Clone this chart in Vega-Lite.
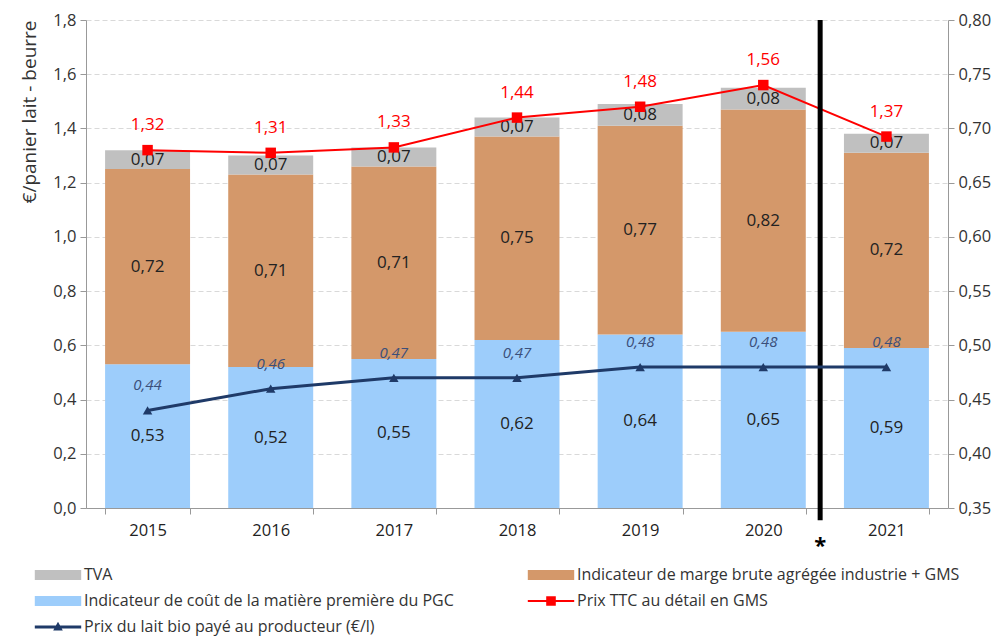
{
  "$schema": "https://vega.github.io/schema/vega-lite/v6.json",
  "width": 862,
  "height": 488,
  "autosize": {"type": "none"},
  "padding": {"left": 86, "top": 20, "right": 59, "bottom": 128},
  "config": {
    "locale": {"number": {"decimal": ",", "thousands": " ", "grouping": [3], "currency": ["", " €"]}},
    "view": {"stroke": null},
    "font": "Open Sans"
  },
  "datasets": {
    "bars": [
      {"year": "2015", "serie": "Indicateur de coût de la matière première du PGC", "value": 0.53},
      {"year": "2015", "serie": "Indicateur de marge brute agrégée industrie + GMS", "value": 0.72},
      {"year": "2015", "serie": "TVA", "value": 0.07},
      {"year": "2016", "serie": "Indicateur de coût de la matière première du PGC", "value": 0.52},
      {"year": "2016", "serie": "Indicateur de marge brute agrégée industrie + GMS", "value": 0.71},
      {"year": "2016", "serie": "TVA", "value": 0.07},
      {"year": "2017", "serie": "Indicateur de coût de la matière première du PGC", "value": 0.55},
      {"year": "2017", "serie": "Indicateur de marge brute agrégée industrie + GMS", "value": 0.71},
      {"year": "2017", "serie": "TVA", "value": 0.07},
      {"year": "2018", "serie": "Indicateur de coût de la matière première du PGC", "value": 0.62},
      {"year": "2018", "serie": "Indicateur de marge brute agrégée industrie + GMS", "value": 0.75},
      {"year": "2018", "serie": "TVA", "value": 0.07},
      {"year": "2019", "serie": "Indicateur de coût de la matière première du PGC", "value": 0.64},
      {"year": "2019", "serie": "Indicateur de marge brute agrégée industrie + GMS", "value": 0.77},
      {"year": "2019", "serie": "TVA", "value": 0.08},
      {"year": "2020", "serie": "Indicateur de coût de la matière première du PGC", "value": 0.65},
      {"year": "2020", "serie": "Indicateur de marge brute agrégée industrie + GMS", "value": 0.82},
      {"year": "2020", "serie": "TVA", "value": 0.08},
      {"year": "2021", "serie": "Indicateur de coût de la matière première du PGC", "value": 0.59},
      {"year": "2021", "serie": "Indicateur de marge brute agrégée industrie + GMS", "value": 0.72},
      {"year": "2021", "serie": "TVA", "value": 0.07}
    ],
    "lines": [
      {"year": "2015", "prix_ttc": 1.32, "lait": 0.44},
      {"year": "2016", "prix_ttc": 1.31, "lait": 0.46},
      {"year": "2017", "prix_ttc": 1.33, "lait": 0.47},
      {"year": "2018", "prix_ttc": 1.44, "lait": 0.47},
      {"year": "2019", "prix_ttc": 1.48, "lait": 0.48},
      {"year": "2020", "prix_ttc": 1.56, "lait": 0.48},
      {"year": "2021", "prix_ttc": 1.37, "lait": 0.48}
    ]
  },
  "layer": [
    {
      "layer": [
        {
          "data": {"name": "bars"},
          "transform": [
            {"stack": "value", "groupby": ["year"], "sort": [{"field": "serie", "order": "ascending"}], "as": ["v0", "v1"]}
          ],
          "mark": {"type": "bar"},
          "encoding": {
            "x": {
              "field": "year", "type": "ordinal", "title": null,
              "scale": {"paddingInner": 0.31, "paddingOuter": 0.155},
              "axis": {"title": null, "labelAngle": 0, "tickBand": "extent", "tickSize": 6, "labelPadding": 8, "labelColor": "#222222", "labelFont": "Open Sans", "labelFontSize": 16.5, "domainColor": "#999999", "tickColor": "#999999", "grid": false}
            },
            "y": {
              "field": "v0", "type": "quantitative", "title": "€/panier lait - beurre",
              "scale": {"domain": [0, 1.8], "nice": false, "zero": false},
              "axis": {
                "title": "€/panier lait - beurre", "titleAnchor": "end", "titlePadding": 13,
                "titleFont": "Open Sans", "titleFontSize": 19, "titleFontWeight": "normal", "titleColor": "#333333",
                "labelFont": "Open Sans", "labelFontSize": 16.5, "labelColor": "#333333",
                "values": [0, 0.2, 0.4, 0.6, 0.8, 1.0, 1.2, 1.4, 1.6, 1.8], "format": ".1f",
                "tickSize": 6, "labelPadding": 4, "domainColor": "#999999", "tickColor": "#999999",
                "grid": true, "gridColor": "#d9d9d9", "gridDash": [5, 3]
              }
            },
            "y2": {"field": "v1"},
            "color": {
              "field": "serie", "type": "nominal",
              "scale": {
                "domain": ["TVA", "Indicateur de coût de la matière première du PGC", "Prix du lait bio payé au producteur (€/l)", "Indicateur de marge brute agrégée industrie + GMS", "Prix TTC au détail en GMS"],
                "range": ["#c0c0c0", "#9dcdfb", "#1f3a68", "#d4986a", "#ff0000"]
              },
              "legend": {
                "title": null, "orient": "none", "legendX": -36, "legendY": 547,
                "columns": 2, "columnPadding": 73, "rowPadding": 10,
                "symbolSize": 256, "labelOffset": 18, "labelFontSize": 16, "labelFont": "Open Sans", "labelColor": "#333333", "labelLimit": 700,
                "encode": {
                  "symbols": {
                    "update": {
                      "shape": {"signal": "datum.value === 'Prix TTC au détail en GMS' ? 'M-2.9,-0.13H2.9V0.13H-2.9Z M-0.6,-0.6H0.6V0.6H-0.6Z' : (datum.value === 'Prix du lait bio payé au producteur (€/l)' ? 'M-2.9,-0.19H2.9V0.19H-2.9Z M0,-0.65L0.6,0.45H-0.6Z' : 'M-2.9,-0.62H2.9V0.62H-2.9Z')"},
                      "fill": {"signal": "datum.value === 'TVA' ? '#c0c0c0' : (indexof(datum.value, 'marge') >= 0 ? '#d4986a' : (indexof(datum.value, 'matière') >= 0 ? '#9dcdfb' : (indexof(datum.value, 'TTC') >= 0 ? '#ff0000' : '#1f3a68')))"},
                      "stroke": {"value": "transparent"},
                      "strokeWidth": {"value": 0},
                      "opacity": {"value": 1},
                      "fillOpacity": {"value": 1}
                    }
                  }
                }
              }
            }
          }
        },
        {
          "data": {"name": "bars"},
          "transform": [
            {"stack": "value", "groupby": ["year"], "sort": [{"field": "serie", "order": "ascending"}], "as": ["v0", "v1"]},
            {"calculate": "(datum.v0 + datum.v1) / 2", "as": "mid"}
          ],
          "mark": {"type": "text", "fontSize": 17, "color": "#222222", "font": "Open Sans"},
          "encoding": {
            "x": {"field": "year", "type": "ordinal", "title": null},
            "y": {"field": "mid", "type": "quantitative", "title": "€/panier lait - beurre"},
            "text": {"field": "value", "type": "quantitative", "format": ".2f"}
          }
        },
        {
          "data": {"name": "lines"},
          "mark": {"type": "line", "strokeWidth": 2, "point": {"shape": "square", "filled": true, "size": 110, "opacity": 1}},
          "encoding": {
            "x": {"field": "year", "type": "ordinal", "title": null},
            "y": {"field": "prix_ttc", "type": "quantitative", "title": "€/panier lait - beurre"},
            "color": {"datum": "Prix TTC au détail en GMS"}
          }
        },
        {
          "data": {"name": "lines"},
          "mark": {"type": "text", "fontSize": 17, "color": "#ff0000", "dy": -25, "font": "Open Sans"},
          "encoding": {
            "x": {"field": "year", "type": "ordinal", "title": null},
            "y": {"field": "prix_ttc", "type": "quantitative", "title": "€/panier lait - beurre"},
            "text": {"field": "prix_ttc", "type": "quantitative", "format": ".2f"}
          }
        },
        {
          "data": {"name": "lines"},
          "transform": [{"filter": "datum.year === '2021'"}],
          "mark": {"type": "rule", "strokeWidth": 5, "color": "#000000"},
          "encoding": {
            "x": {"field": "year", "type": "ordinal", "bandPosition": -0.28, "title": null},
            "y": {"datum": 1.8, "type": "quantitative", "title": "€/panier lait - beurre"},
            "y2": {"datum": -0.045}
          }
        },
        {
          "data": {"name": "lines"},
          "transform": [{"filter": "datum.year === '2021'"}],
          "mark": {"type": "text", "fontSize": 22, "fontWeight": "bold", "color": "#000000", "text": "*"},
          "encoding": {
            "x": {"field": "year", "type": "ordinal", "bandPosition": -0.28, "title": null},
            "y": {"datum": -0.14, "type": "quantitative", "title": "€/panier lait - beurre"}
          }
        }
      ]
    },
    {
      "data": {"name": "lines"},
      "layer": [
        {
          "mark": {"type": "line", "strokeWidth": 3, "point": {"shape": "triangle-up", "filled": true, "size": 90, "opacity": 1}},
          "encoding": {
            "x": {"field": "year", "type": "ordinal", "title": null},
            "y": {
              "field": "lait", "type": "quantitative", "title": null,
              "scale": {"domain": [0.35, 0.8], "nice": false, "zero": false},
              "axis": {"orient": "right", "title": null, "values": [0.35, 0.4, 0.45, 0.5, 0.55, 0.6, 0.65, 0.7, 0.75, 0.8], "format": ".2f", "tickSize": 6, "labelPadding": 4, "grid": false,
                "labelFont": "Open Sans", "labelFontSize": 16.5, "labelColor": "#333333", "domainColor": "#999999", "tickColor": "#999999"}
            },
            "color": {"datum": "Prix du lait bio payé au producteur (€/l)"}
          }
        },
        {
          "mark": {"type": "text", "fontSize": 15, "fontStyle": "italic", "color": "#3b4f7a", "dy": -25, "font": "Open Sans"},
          "encoding": {
            "x": {"field": "year", "type": "ordinal", "title": null},
            "y": {"field": "lait", "type": "quantitative", "title": null},
            "text": {"field": "lait", "type": "quantitative", "format": ".2f"}
          }
        }
      ]
    }
  ],
  "resolve": {"scale": {"y": "independent"}}
}
